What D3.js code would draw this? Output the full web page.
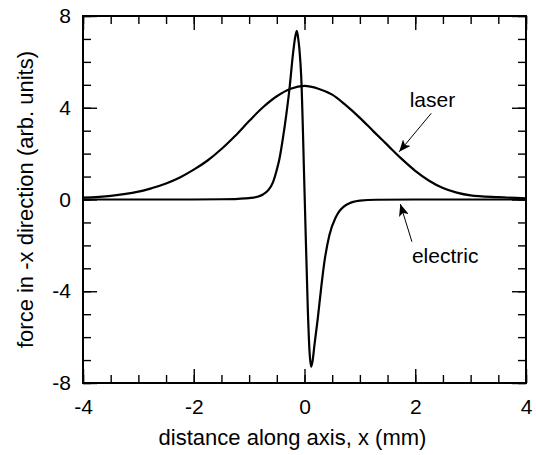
<!DOCTYPE html>
<html>
<head>
<meta charset="utf-8">
<script src="https://cdn.jsdelivr.net/npm/d3@7"></script>
<style>
  html, body { margin: 0; padding: 0; background: #fff; }
  svg { display: block; }
  text { font-family: "Liberation Sans", Arial, Helvetica, sans-serif; fill: #000; }
</style>
</head>
<body>
<svg id="chart" width="536" height="455"></svg>
<script>
// Force along the axis (arb. units) vs. position x (mm)
const laserX = [-4, -3.5, -3, -2.75, -2.5, -2.25, -2, -1.75, -1.5, -1.25, -1, -0.75, -0.5, -0.25, 0,
                0.25, 0.5, 0.75, 1, 1.25, 1.5, 1.75, 2, 2.25, 2.5, 2.75, 3, 3.5, 4];
const laserF = [0.08, 0.16, 0.34, 0.5, 0.7, 0.96, 1.3, 1.7, 2.2, 2.78, 3.42, 4.02, 4.5, 4.83, 4.95,
                4.83, 4.57, 4.1, 3.56, 2.96, 2.37, 1.78, 1.25, 0.82, 0.5, 0.3, 0.18, 0.1, 0.05];

const electricX = [-4, -2, -1.5, -1.2, -1.0, -0.85, -0.75, -0.65, -0.57, -0.5, -0.45, -0.39, -0.33, -0.27,
                   -0.21, -0.17, -0.14, -0.115, -0.09, -0.06, 0, 0.06, 0.09, 0.12, 0.145, 0.18, 0.24, 0.30,
                   0.36, 0.45, 0.57, 0.75, 1.0, 1.3, 2, 4];
const electricF = [0, 0, 0.01, 0.03, 0.06, 0.12, 0.22, 0.42, 0.75, 1.3, 1.8, 2.67, 3.68, 4.85,
                   6.3, 7.05, 7.35, 7.05, 6.5, 5.4, 0.4, -4.8, -6.6, -7.29, -7.05, -6.34, -5.18, -3.87,
                   -2.71, -1.55, -0.75, -0.24, -0.05, -0.01, 0, 0];

const xMajorTicks = [-4, -2, 0, 2, 4];
const xMinorTicks = [-4, -3.5, -3, -2.5, -2, -1.5, -1, -0.5, 0, 0.5, 1, 1.5, 2, 2.5, 3, 3.5, 4];
const yMajorTicks = [-8, -4, 0, 4, 8];
const yMinorTicks = [-8, -7, -6, -5, -4, -3, -2, -1, 0, 1, 2, 3, 4, 5, 6, 7, 8];

const xTitle = "distance along axis, x (mm)";
const yTitle = "force in -x direction (arb. units)";

// annotation anchors in data coordinates: label position, arrow tail, arrow tip
const annotations = [
  { text: "laser",    label: [1.9, 4.05],   tail: [2.29, 3.76],  tip: [1.71, 2.08] },
  { text: "electric", label: [1.94, -2.78], tail: [1.94, -1.84], tip: [1.73, -0.2] }
];

const svg = d3.select("#chart");
const plotLeft = 83, plotRight = 526, plotTop = 16, plotBottom = 383;
const majorLen = 14, minorLen = 8;

const x = d3.scaleLinear().domain([-4, 4]).range([plotLeft, plotRight]);
const y = d3.scaleLinear().domain([-8, 8]).range([plotBottom, plotTop]);
const plainNumber = d => String(d);   // plain hyphen-minus for negatives

function styleAxis(g) {
  g.select(".domain").remove();
  g.selectAll(".tick line").attr("stroke", "#000").attr("stroke-width", 1.4);
  g.selectAll(".tick text").style("font-size", "21px").attr("fill", "#000");
}

// minor ticks on all four sides, pointing inward
svg.append("g").attr("transform", `translate(0,${plotBottom})`)
  .call(d3.axisBottom(x).tickValues(xMinorTicks).tickSize(-minorLen).tickFormat(""))
  .call(styleAxis);
svg.append("g").attr("transform", `translate(0,${plotTop})`)
  .call(d3.axisTop(x).tickValues(xMinorTicks).tickSize(-minorLen).tickFormat(""))
  .call(styleAxis);
svg.append("g").attr("transform", `translate(${plotLeft},0)`)
  .call(d3.axisLeft(y).tickValues(yMinorTicks).tickSize(-minorLen).tickFormat(""))
  .call(styleAxis);
svg.append("g").attr("transform", `translate(${plotRight},0)`)
  .call(d3.axisRight(y).tickValues(yMinorTicks).tickSize(-minorLen).tickFormat(""))
  .call(styleAxis);

// major ticks with labels on bottom and left
svg.append("g").attr("transform", `translate(0,${plotBottom})`)
  .call(d3.axisBottom(x).tickValues(xMajorTicks).tickSize(-majorLen).tickPadding(16).tickFormat(plainNumber))
  .call(styleAxis);
svg.append("g").attr("transform", `translate(0,${plotTop})`)
  .call(d3.axisTop(x).tickValues(xMajorTicks).tickSize(-majorLen).tickFormat(""))
  .call(styleAxis);
svg.append("g").attr("transform", `translate(${plotLeft},0)`)
  .call(d3.axisLeft(y).tickValues(yMajorTicks).tickSize(-majorLen).tickPadding(12).tickFormat(plainNumber))
  .call(styleAxis);
svg.append("g").attr("transform", `translate(${plotRight},0)`)
  .call(d3.axisRight(y).tickValues(yMajorTicks).tickSize(-majorLen).tickFormat(""))
  .call(styleAxis);

// plot frame
svg.append("rect")
  .attr("x", plotLeft).attr("y", plotTop)
  .attr("width", plotRight - plotLeft).attr("height", plotBottom - plotTop)
  .attr("fill", "none").attr("stroke", "#000").attr("stroke-width", 2);

// curves
const laserLine = d3.line().x(d => x(d[0])).y(d => y(d[1])).curve(d3.curveCatmullRom.alpha(0.5));
const electricLine = d3.line().x(d => x(d[0])).y(d => y(d[1])).curve(d3.curveMonotoneX);
const laser = laserX.map((v, i) => [v, laserF[i]]);
const electric = electricX.map((v, i) => [v, electricF[i]]);

svg.append("path").datum(laser).attr("d", laserLine)
  .attr("fill", "none").attr("stroke", "#000").attr("stroke-width", 2.2).attr("stroke-linejoin", "round");
svg.append("path").datum(electric).attr("d", electricLine)
  .attr("fill", "none").attr("stroke", "#000").attr("stroke-width", 2.2).attr("stroke-linejoin", "round");

// arrowhead marker
svg.append("defs").append("marker")
  .attr("id", "arrow").attr("viewBox", "0 0 12 10")
  .attr("refX", 12).attr("refY", 5)
  .attr("markerWidth", 12).attr("markerHeight", 10)
  .attr("markerUnits", "userSpaceOnUse")
  .attr("orient", "auto")
  .append("path").attr("d", "M0,0 L12,5 L0,10 L3,5 Z").attr("fill", "#000");

annotations.forEach(a => {
  svg.append("line")
    .attr("x1", x(a.tail[0])).attr("y1", y(a.tail[1]))
    .attr("x2", x(a.tip[0])).attr("y2", y(a.tip[1]))
    .attr("stroke", "#000").attr("stroke-width", 1)
    .attr("marker-end", "url(#arrow)");
  svg.append("text")
    .attr("x", x(a.label[0])).attr("y", y(a.label[1]))
    .style("font-size", "21px")
    .text(a.text);
});

// axis titles
svg.append("text")
  .attr("x", (plotLeft + plotRight) / 2 - 12).attr("y", 445)
  .attr("text-anchor", "middle")
  .style("font-size", "22px")
  .text(xTitle);
svg.append("text")
  .attr("transform", `translate(33,${(plotTop + plotBottom) / 2}) rotate(-90)`)
  .attr("text-anchor", "middle")
  .style("font-size", "22px")
  .text(yTitle);
</script>
</body>
</html>
